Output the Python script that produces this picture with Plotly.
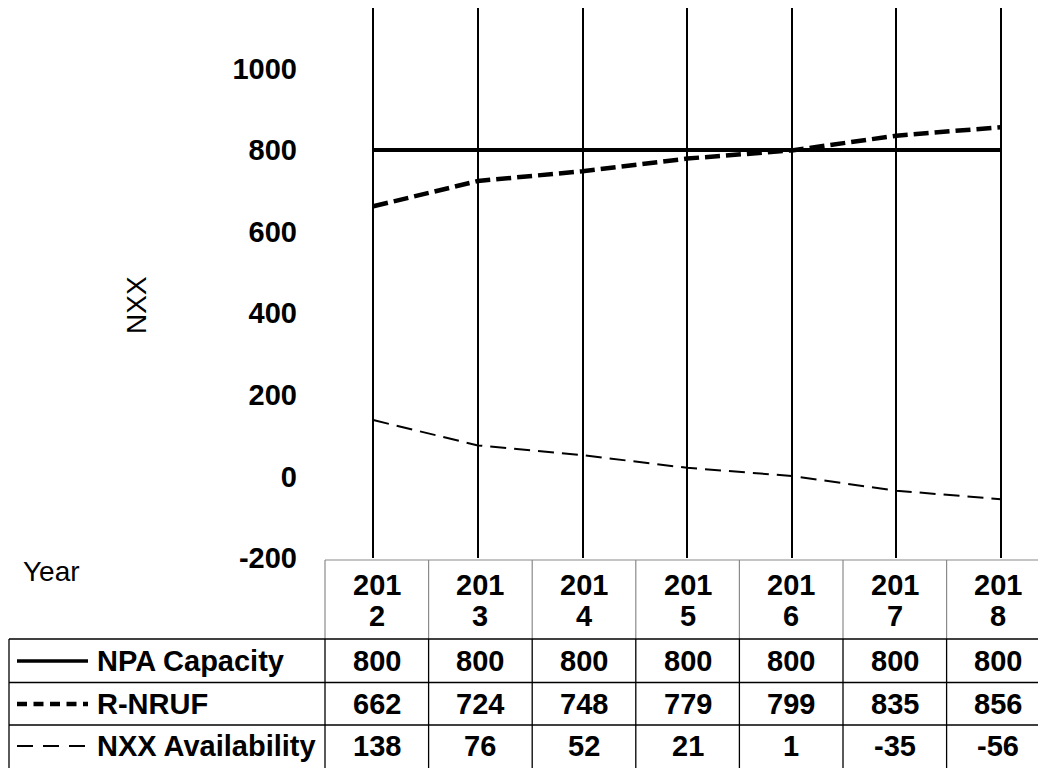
import plotly.graph_objects as go

# ---- data ----
years = [2012, 2013, 2014, 2015, 2016, 2017, 2018]
npa_capacity = [800, 800, 800, 800, 800, 800, 800]
r_nruf = [662, 724, 748, 779, 799, 835, 856]
nxx_availability = [138, 76, 52, 21, 1, -35, -56]
series_names = ["NPA Capacity", "R-NRUF", "NXX Availability"]
y_ticks = [-200, 0, 200, 400, 600, 800, 1000]

FONT = "Liberation Sans, Arial, sans-serif"
FS = 29
FSN = 28

OFF = 8  # page body margin
W, H = 1046 - OFF, 768 - OFF
# screen-space geometry
PLOT_LEFT, PLOT_TOP, PLOT_BOTTOM = 325, 8, 558
ML = PLOT_LEFT - OFF
MT = PLOT_TOP - OFF
MB = H - (PLOT_BOTTOM - OFF)
PW = W - ML
PH = PLOT_BOTTOM - PLOT_TOP


def px(xpix):
    return (xpix - PLOT_LEFT) / PW


def py(ypix):
    return (PLOT_BOTTOM - ypix) / PH


styles = [
    dict(color="black", width=4, dash="solid"),
    dict(color="black", width=4.5, dash="15px,6px"),
    dict(color="black", width=2, dash="16px,8px"),
]
values = [npa_capacity, r_nruf, nxx_availability]

fig = go.Figure()
for name, vals, st in zip(series_names, values, styles):
    fig.add_trace(go.Scatter(x=years, y=vals, mode="lines", name=name,
                             line=st, showlegend=False, hoverinfo="x+y+name"))

shapes = []
annotations = []

# ---- table geometry (screen px) ----
col_w = 103.6
col_edges = [PLOT_LEFT + k * col_w for k in range(len(years) + 1)]
label_left = 9
row_edges = [560, 639, 682.5, 725, 770]
GRAY = "#8a8a8a"


def hline(x0, x1, yv, color, w):
    shapes.append(dict(type="line", xref="paper", yref="paper",
                       x0=px(x0), x1=px(x1), y0=py(yv), y1=py(yv),
                       line=dict(color=color, width=w)))


def vline(xv, y0, y1, color, w):
    shapes.append(dict(type="line", xref="paper", yref="paper",
                       x0=px(xv), x1=px(xv), y0=py(y0), y1=py(y1),
                       line=dict(color=color, width=w)))


def text(xp, yp, s, size=FS, anchor="center", bold=True):
    annotations.append(dict(x=px(xp), y=py(yp), xref="paper", yref="paper",
                            text=("<b>%s</b>" % s) if bold else s,
                            showarrow=False, xanchor=anchor, yanchor="middle",
                            font=dict(family=FONT, size=size, color="black")))


# header (gray)
hline(col_edges[0], col_edges[-1], row_edges[0], GRAY, 1.2)
for xe in col_edges:
    vline(xe, row_edges[0], row_edges[1], GRAY, 1.2)
# data rows (black)
for ye in row_edges[1:4]:
    hline(label_left, col_edges[-1], ye, "black", 1.3)
for xe in [label_left] + col_edges:
    vline(xe, row_edges[1], row_edges[4], "black", 1.3)

# header texts (year wrapped onto two lines)
for i, yr in enumerate(years):
    cx = (col_edges[i] + col_edges[i + 1]) / 2
    s = str(yr)
    text(cx, 585, s[:3])
    text(cx, 616, s[3:])

# data rows
row_centers = [661, 704, 746]
sample_dash = ["solid", "10px,6.5px", "16px,10px"]
sample_w = [3.5, 4.5, 2]
for r, (name, vals) in enumerate(zip(series_names, values)):
    cy = row_centers[r]
    for i, v in enumerate(vals):
        cx = (col_edges[i] + col_edges[i + 1]) / 2
        text(cx, cy, "%d" % v)
    shapes.append(dict(type="line", xref="paper", yref="paper",
                       x0=px(17), x1=px(88), y0=py(cy), y1=py(cy),
                       line=dict(color="black", width=sample_w[r], dash=sample_dash[r])))
    text(95, cy, name, anchor="left")

# "Year" label
text(21, 571, "Year", size=FSN, anchor="left", bold=False)
# NXX axis title
annotations.append(dict(x=px(136), y=py(305), xref="paper", yref="paper",
                        text="NXX", showarrow=False, textangle=-90,
                        xanchor="center", yanchor="middle",
                        font=dict(family=FONT, size=FSN, color="black")))

px_per_year = 104.6
first_line = 373.3
x0_year = years[0] - (first_line - PLOT_LEFT) / px_per_year
x1_year = years[0] + (PLOT_LEFT + PW - first_line) / px_per_year

fig.update_layout(
    width=W, height=H,
    margin=dict(l=ML, r=0, t=MT, b=MB, pad=0),
    paper_bgcolor="white", plot_bgcolor="white",
    shapes=shapes, annotations=annotations,
    xaxis=dict(range=[x0_year, x1_year], tickvals=years, showticklabels=False,
               showgrid=True, gridcolor="black", gridwidth=1.5,
               zeroline=False, showline=False, ticks=""),
    yaxis=dict(range=[-200, 1148], tickvals=y_ticks,
               ticktext=["<b>%d</b>" % t for t in y_ticks],
               showgrid=False, zeroline=False, showline=False, ticks="",
               ticklabelstandoff=27,
               tickfont=dict(family=FONT, size=FS, color="black")),
    showlegend=False,
)

fig.write_html("out.html")
